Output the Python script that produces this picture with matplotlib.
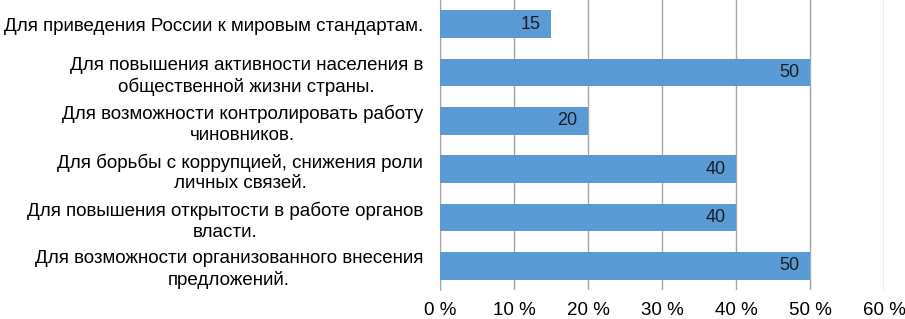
import matplotlib
matplotlib.use("Agg")
import matplotlib.pyplot as plt

plt.rcParams["font.family"] = ["Liberation Sans", "DejaVu Sans"]

categories = [
    "Для приведения России к мировым стандартам.",
    "Для повышения активности населения в\nобщественной жизни страны.",
    "Для возможности контролировать работу\nчиновников.",
    "Для борьбы с коррупцией, снижения роли\nличных связей.",
    "Для повышения открытости в работе органов\nвласти.",
    "Для возможности организованного внесения\nпредложений.",
]
values = [15, 50, 20, 40, 40, 50]
xticks = [0, 10, 20, 30, 40, 50, 60]
xtick_labels = ["0 %", "10 %", "20 %", "30 %", "40 %", "50 %", "60 %"]

fig = plt.figure(figsize=(9.05, 3.19), dpi=100)
ax = fig.add_axes([0.486, 0.091, 0.491, 0.909])

pos = list(range(len(categories)))
bars = ax.barh(pos, values, height=0.57, color="#5b9bd5", zorder=3)
for b, v in zip(bars, values):
    ax.text(b.get_width() - 1.4, b.get_y() + b.get_height() / 2, str(v),
            ha="right", va="center", fontsize=13, color="#1c1c28", zorder=4)

ax.set_xlim(0, 60)
ax.set_ylim(len(categories) - 0.5, -0.5)
ax.set_xticks(xticks)
ax.set_xticklabels(xtick_labels, fontsize=13.5)
ax.set_yticks(pos)
ax.set_yticklabels(categories, fontsize=13.5, multialignment="center", linespacing=1.27)
ax.tick_params(axis="both", length=0)
ax.tick_params(axis="y", pad=12)
ax.tick_params(axis="x", pad=9)
ax.xaxis.grid(True, color="#a6a6a6", lw=1, zorder=0)
for s in ["top", "right", "bottom"]:
    ax.spines[s].set_visible(False)
ax.spines["left"].set_color("#a6a6a6")

fig.savefig("out.png", dpi=100)
